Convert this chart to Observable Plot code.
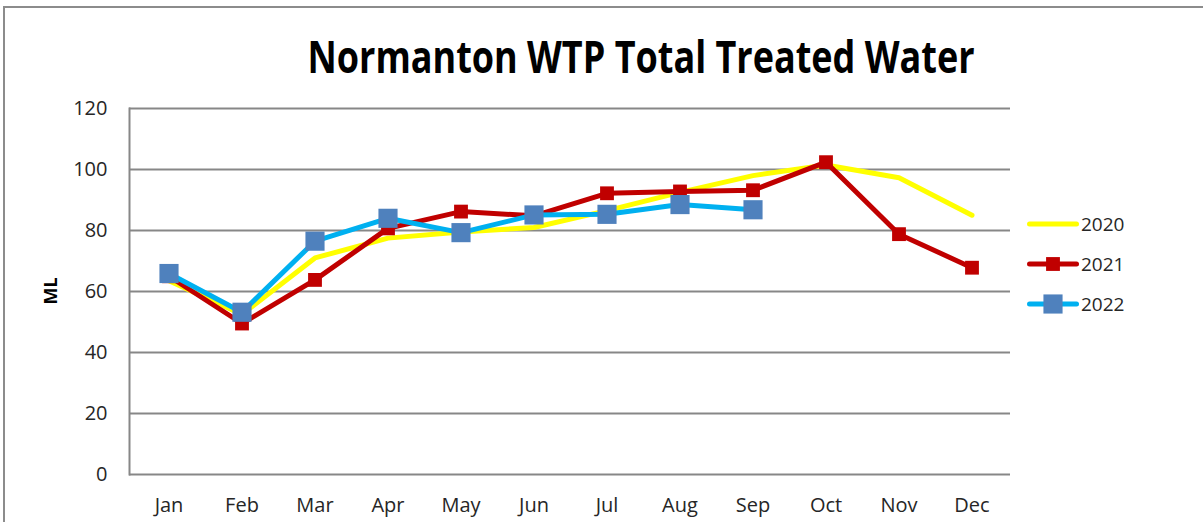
<!DOCTYPE html>
<html>
<head>
<meta charset="utf-8">
<script src="https://cdn.jsdelivr.net/npm/d3@7"></script>
<script src="https://cdn.jsdelivr.net/npm/@observablehq/plot@0.6"></script>
<style>
  html, body { margin: 0; padding: 0; background: #fff; overflow: hidden; }
  #wrap { position: relative; width: 1203px; height: 522px; font-family: "Open Sans", sans-serif; }
  #frame { position: absolute; left: 3px; top: 6px; width: 1400px; height: 700px; border: 2px solid #8c8c8c; box-sizing: border-box; pointer-events: none; }
  #title { position: absolute; left: 0; top: 0; width: 1203px; height: 95px; }
  #chart { position: absolute; left: 0; top: 95px; }
  #legend { position: absolute; left: 1027px; top: 204px; }
  .row { display: flex; align-items: center; height: 40px; font-size: 19px; color: #262626; }
  .row svg { margin-right: 2px; }
</style>
</head>
<body>
<div id="wrap">
  <div id="frame"></div>
  <svg id="title" width="1203" height="95">
    <text x="641" y="73" text-anchor="middle" font-family="Open Sans" font-weight="bold" font-size="44" textLength="667" lengthAdjust="spacingAndGlyphs" fill="#000">Normanton WTP Total Treated Water</text>
  </svg>
  <div id="chart"></div>
  <div id="legend"></div>
</div>
<script>
const months = ["Jan","Feb","Mar","Apr","May","Jun","Jul","Aug","Sep","Oct","Nov","Dec"];
const v2020 = [63.5, 52.5, 71, 77.5, 79.5, 81, 86.5, 92.5, 98, 101.5, 97.3, 85];
const v2021 = [65, 49.5, 63.8, 80.7, 86.2, 84.8, 92.2, 92.8, 93.2, 102.4, 78.8, 67.8];
const v2022 = [65.9, 53.2, 76.5, 84, 79.3, 85.1, 85.3, 88.5, 86.8];
const yTicks = [0, 20, 40, 60, 80, 100, 120];
const series = [
  {name: "2020", values: v2020, line: "#FFFF00", marker: null, r: 0},
  {name: "2021", values: v2021, line: "#C00000", marker: "#C00000", r: 7.8},
  {name: "2022", values: v2022, line: "#00B0F0", marker: "#4F81BD", r: 10.8}
];

const marks = [
  Plot.gridY(yTicks, {stroke: "#878787", strokeOpacity: 1, strokeWidth: 2}),
  Plot.frame({anchor: "left", stroke: "#878787", strokeWidth: 2}),
  Plot.axisY(yTicks, {tickSize: 0, tickPadding: 22, fontSize: 20, fill: "#262626", label: null}),
  Plot.axisX(months, {tickSize: 0, tickPadding: 23, fontSize: 20, fill: "#262626", label: null})
];
for (const s of series) {
  const data = s.values.map((v, i) => ({month: months[i], value: v}));
  marks.push(Plot.line(data, {x: "month", y: "value", stroke: s.line, strokeWidth: 5, strokeLinejoin: "round", curve: "linear"}));
  if (s.marker) marks.push(Plot.dot(data, {x: "month", y: "value", symbol: "square", r: s.r, fill: s.marker, stroke: "none"}));
}

const chart = Plot.plot({
  width: 1203,
  height: 427,
  marginTop: 13,
  marginBottom: 48,
  marginLeft: 129,
  marginRight: 193,
  style: {fontFamily: "Open Sans", background: "transparent", overflow: "visible"},
  x: {type: "band", domain: months, padding: 0, align: 0.5},
  y: {domain: [0, 120]},
  marks
});
document.getElementById("chart").appendChild(chart);

// Y axis title
const svg = d3.select(chart);
svg.append("text")
  .attr("transform", "translate(50," + (291 - 95) + ") rotate(-90)")
  .attr("text-anchor", "middle")
  .attr("dominant-baseline", "central")
  .attr("font-family", "Open Sans")
  .attr("font-weight", "bold")
  .attr("font-size", 18)
  .attr("fill", "#000")
  .text("ML");

// Legend
const legend = d3.select("#legend");
for (const s of series) {
  const row = legend.append("div").attr("class", "row");
  const sv = row.append("svg").attr("width", 52).attr("height", 24);
  sv.append("line").attr("x1", 2.5).attr("x2", 49.5).attr("y1", 12).attr("y2", 12)
    .attr("stroke", s.line).attr("stroke-width", 5).attr("stroke-linecap", "round");
  if (s.marker) {
    const side = s.r * Math.sqrt(Math.PI);
    sv.append("rect").attr("x", 26 - side / 2).attr("y", 12 - side / 2)
      .attr("width", side).attr("height", side).attr("fill", s.marker);
  }
  row.append("span").text(s.name);
}
</script>
</body>
</html>
